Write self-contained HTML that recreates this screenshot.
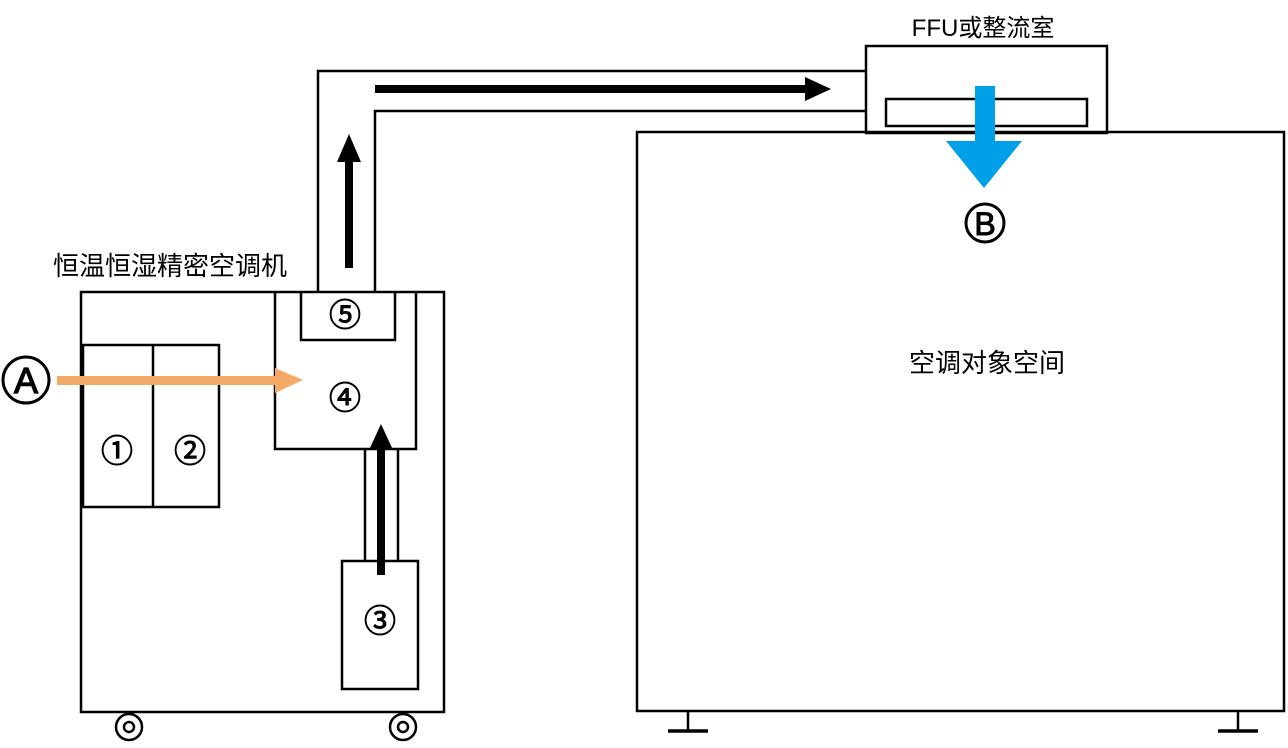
<!DOCTYPE html>
<html><head><meta charset="utf-8"><style>
body{margin:0;background:#fff}
svg text{font-family:"Liberation Sans","Noto Sans CJK SC",sans-serif;fill:#000}
</style></head><body>
<svg width="1288" height="743" viewBox="0 0 1288 743" xmlns="http://www.w3.org/2000/svg">
<g fill="none" stroke="#000" stroke-width="2.5">
<rect x="81" y="292" width="363" height="420"/>
<rect x="83" y="345" width="136" height="162"/>
<line x1="153" y1="345" x2="153" y2="507"/>
<polyline points="275,292 275,449 416,449 416,292"/>
<polyline points="301,292 301,340 395,340 395,292"/>
<rect x="342" y="561" width="76" height="128"/>
<line x1="365" y1="449" x2="365" y2="561"/>
<line x1="398" y1="449" x2="398" y2="561"/>
<polyline points="318,292 318,71 866,71"/>
<polyline points="375,292 375,111 866,111"/>
<rect x="866" y="46" width="241" height="87"/>
<rect x="886" y="99" width="201" height="27"/>
<rect x="637" y="132" width="647" height="579"/>
<line x1="688" y1="711" x2="688" y2="731"/>
<line x1="1238" y1="711" x2="1238" y2="731"/>
<circle cx="26" cy="380" r="23" stroke-width="3"/>
<circle cx="985" cy="223" r="19" stroke-width="3"/>
<circle cx="129" cy="727" r="13"/><circle cx="129" cy="727" r="5"/>
<circle cx="403" cy="727" r="13"/><circle cx="403" cy="727" r="5"/>
</g>
<g stroke="#000" stroke-width="3.5">
<line x1="668" y1="731" x2="708" y2="731"/>
<line x1="1218" y1="731" x2="1258" y2="731"/>
</g>
<rect x="57" y="376" width="220" height="9" fill="#f4aa66"/>
<polygon points="275,368 303,380 275,393" fill="#f4aa66"/>
<rect x="375" y="85" width="432" height="8" fill="#000"/>
<polygon points="805,77 831,89 805,101" fill="#000"/>
<rect x="345" y="160" width="8" height="108" fill="#000"/>
<polygon points="337,162 349,134 361,162" fill="#000"/>
<rect x="377" y="448" width="8" height="127" fill="#000"/>
<polygon points="369,450 381,424 393,450" fill="#000"/>
<rect x="975" y="86" width="20" height="56" fill="#00a0e8"/>
<polygon points="946,141 1022,141 984,188" fill="#00a0e8"/>
<text x="26" y="393" font-size="36" text-anchor="middle" stroke="#000" stroke-width="1.2">A</text>
<text x="985" y="235" font-size="32" text-anchor="middle" stroke="#000" stroke-width="1">B</text>
<text x="53" y="275" font-size="26">恒温恒湿精密空调机</text>
<text x="983" y="36" font-size="24" text-anchor="middle">FFU或整流室</text>
<text x="987" y="372" font-size="26" text-anchor="middle">空调对象空间</text>
<g font-size="32" text-anchor="middle" stroke="#000" stroke-width="0.9">
<text x="117" y="462">①</text>
<text x="190" y="462">②</text>
<text x="380" y="632">③</text>
<text x="345" y="409">④</text>
<text x="345" y="326">⑤</text>
</g>
</svg>
</body></html>
